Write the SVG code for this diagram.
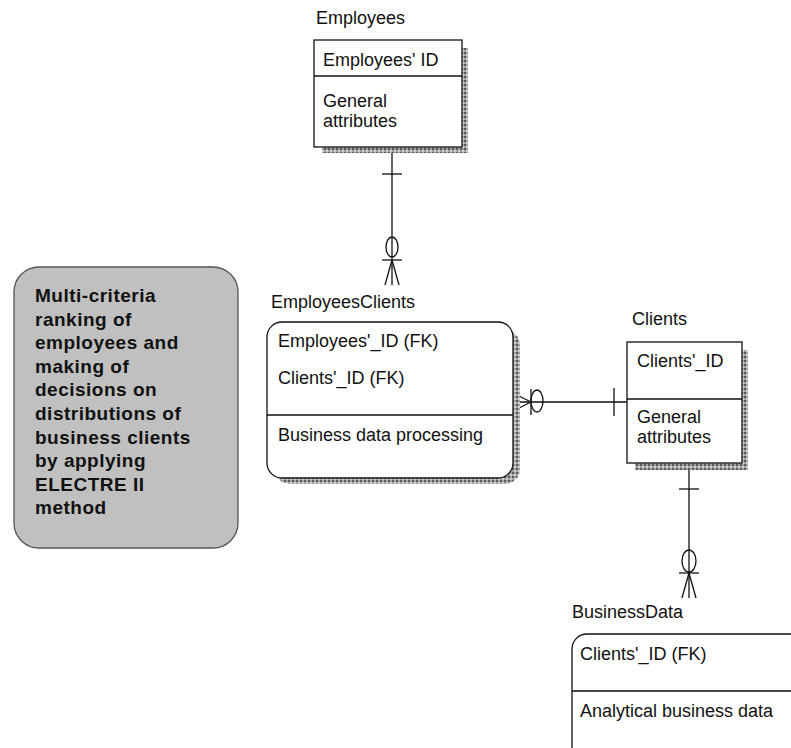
<svg xmlns="http://www.w3.org/2000/svg" width="791" height="748" viewBox="0 0 791 748">
<defs>
<pattern id="shd" width="4" height="4" patternUnits="userSpaceOnUse">
<rect width="4" height="4" fill="#a0a0a0"/>
<rect x="0" y="0" width="2" height="2" fill="#5e5e5e"/>
<rect x="2" y="2" width="2" height="2" fill="#d0d0d0"/>
</pattern>
</defs>
<style>
text{font-family:"Liberation Sans",Arial,sans-serif;font-size:18px;fill:#111}
.b{font-weight:bold;font-size:19px;letter-spacing:0.5px}
.box{fill:#fff;stroke:#111;stroke-width:1.3}
.sh{fill:url(#shd)}
.ln{stroke:#111;stroke-width:1.3;fill:none}
</style>
<rect width="791" height="748" fill="#fff"/>

<g id="note">
<rect x="14" y="267" width="224" height="281" rx="25" fill="#c0c0c0" stroke="#555" stroke-width="1.3"/>
<text class="b" x="35" y="302">Multi-criteria</text>
<text class="b" x="35" y="325.6">ranking of</text>
<text class="b" x="35" y="349.2">employees and</text>
<text class="b" x="35" y="372.8">making of</text>
<text class="b" x="35" y="396.4">decisions on</text>
<text class="b" x="35" y="420">distributions of</text>
<text class="b" x="35" y="443.6">business clients</text>
<text class="b" x="35" y="467.2">by applying</text>
<text class="b" x="35" y="490.8">ELECTRE II</text>
<text class="b" x="35" y="514.4">method</text>
</g>

<g id="connectors">
<line class="ln" x1="392" y1="147" x2="392" y2="285"/>
<line class="ln" x1="382" y1="174" x2="402" y2="174"/>
<ellipse class="ln" cx="392" cy="247" rx="6" ry="10"/>
<line class="ln" x1="382" y1="260" x2="402" y2="260"/>
<path class="ln" d="M392,260 L385,285 M392,260 L399,285"/>

<line class="ln" x1="513" y1="402" x2="627" y2="402"/>
<line class="ln" x1="614" y1="388" x2="614" y2="416"/>
<ellipse class="ln" cx="537" cy="401" rx="6" ry="11"/>
<line class="ln" x1="531" y1="389" x2="531" y2="415"/>
<path class="ln" d="M531,402 L513,393 M531,402 L513,411"/>

<line class="ln" x1="689" y1="463" x2="689" y2="598"/>
<line class="ln" x1="679" y1="489" x2="699" y2="489"/>
<ellipse class="ln" cx="689" cy="561" rx="7" ry="11"/>
<line class="ln" x1="679" y1="573" x2="699" y2="573"/>
<path class="ln" d="M689,573 L682,598 M689,573 L696,598"/>
</g>

<g id="employees">
<text x="316" y="24">Employees</text>
<rect class="sh" x="322" y="48" width="146" height="105"/>
<rect class="box" x="314" y="40" width="148" height="107"/>
<line class="ln" x1="314" y1="76" x2="462" y2="76"/>
<text x="323" y="66">Employees' ID</text>
<text x="323" y="107">General</text>
<text x="323" y="127">attributes</text>
</g>

<g id="employeesclients">
<text x="271" y="308">EmployeesClients</text>
<rect class="sh" x="275" y="330" width="245" height="154" rx="15"/>
<rect class="box" x="267" y="322" width="246" height="156" rx="15"/>
<line class="ln" x1="267" y1="415" x2="513" y2="415"/>
<text x="278" y="347">Employees'_ID (FK)</text>
<text x="278" y="384">Clients'_ID (FK)</text>
<text x="278" y="441">Business data processing</text>
</g>

<g id="clients">
<text x="632" y="325">Clients</text>
<rect class="sh" x="635" y="350" width="113" height="120"/>
<rect class="box" x="627" y="342" width="115" height="121"/>
<line class="ln" x1="627" y1="399" x2="742" y2="399"/>
<text x="637" y="367">Clients'_ID</text>
<text x="637" y="423">General</text>
<text x="637" y="443">attributes</text>
</g>

<g id="businessdata">
<text x="572" y="618">BusinessData</text>
<rect class="box" x="572" y="634" width="260" height="160" rx="15"/>
<line class="ln" x1="572" y1="691" x2="791" y2="691"/>
<text x="580" y="660">Clients'_ID (FK)</text>
<text x="580" y="717">Analytical business data</text>
</g>
</svg>
